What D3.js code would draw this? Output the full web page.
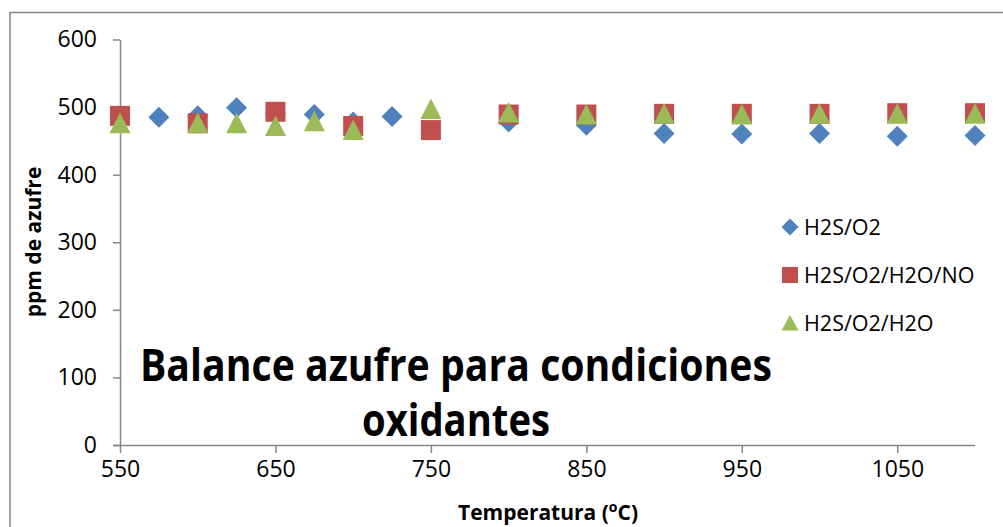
<!DOCTYPE html>
<html>
<head>
<meta charset="utf-8">
<script src="https://cdn.jsdelivr.net/npm/d3@7"></script>
<style>
  html, body { margin: 0; padding: 0; background: #fff; }
  svg { display: block; }
</style>
</head>
<body>
<svg id="chart" width="1003" height="527"></svg>
<script>
// Sulfur balance (ppm) vs temperature for three gas mixtures
const tempsH2SO2 = [550, 575, 600, 625, 650, 675, 700, 725, 800, 850, 900, 950, 1000, 1050, 1100];
const ppmH2SO2   = [485, 485, 487, 499, 490, 489, 478, 486, 478, 473, 461, 460, 461, 457, 458];

const tempsH2SO2H2ONO = [550, 600, 650, 700, 750, 800, 850, 900, 950, 1000, 1050, 1100];
const ppmH2SO2H2ONO   = [487, 476, 493, 472, 466, 489, 489, 490, 490, 490, 491, 491];

const tempsH2SO2H2O = [550, 600, 625, 650, 675, 700, 750, 800, 850, 900, 950, 1000, 1050, 1100];
const ppmH2SO2H2O   = [476, 476, 476, 472, 479, 466, 497, 492, 489, 490, 489, 490, 490, 490];

const seriesNames = ["H2S/O2", "H2S/O2/H2O/NO", "H2S/O2/H2O"];
const xTicks = [550, 650, 750, 850, 950, 1050];
const yTicks = [0, 100, 200, 300, 400, 500, 600];
const titleLines = ["Balance azufre para condiciones", "oxidantes"];

const colors = ["#4F81BD", "#C0504D", "#9BBB59"];
const axisColor = "#868686";
const font = "'Open Sans', 'Noto Sans', sans-serif";

const svg = d3.select("#chart");

// chart frame
svg.append("rect")
  .attr("x", 10).attr("y", 12.5)
  .attr("width", 1010).attr("height", 530)
  .attr("fill", "none").attr("stroke", axisColor).attr("stroke-width", 1.5);

const x = d3.scaleLinear().domain([550, 1100]).range([120, 975]);
const y = d3.scaleLinear().domain([0, 600]).range([445, 39.5]);

// y axis
const yAxis = svg.append("g")
  .attr("transform", "translate(120,0)")
  .call(d3.axisLeft(y).tickValues(yTicks).tickFormat(d3.format("d"))
    .tickSize(7).tickPadding(16).tickSizeOuter(0));
// x axis
const xAxis = svg.append("g")
  .attr("transform", "translate(0,445)")
  .call(d3.axisBottom(x).tickValues(xTicks).tickFormat(d3.format("d"))
    .tickSize(8).tickPadding(18).tickSizeOuter(0));

[yAxis, xAxis].forEach(g => {
  g.select(".domain").attr("stroke", axisColor).attr("stroke-width", 1.5);
  g.selectAll(".tick line").attr("stroke", axisColor).attr("stroke-width", 1.5);
  g.selectAll(".tick text")
    .attr("font-family", font).attr("font-size", 23).attr("fill", "#000");
});
xAxis.selectAll(".tick text").attr("dy", "0.25em");
// x axis line continues left of the y axis
xAxis.select(".domain").attr("d", `M113,0.5H${x(1100)}`);

// markers
const diamond = "M0,-10.5L10.5,0L0,10.5L-10.5,0Z";
const square = "M-10,-10H10V10H-10Z";
const triangle = "M0,-10.5L10.5,10L-10.5,10Z";
const shapes = [diamond, square, triangle];

const seriesData = [
  tempsH2SO2.map((t, i) => [t, ppmH2SO2[i]]),
  tempsH2SO2H2ONO.map((t, i) => [t, ppmH2SO2H2ONO[i]]),
  tempsH2SO2H2O.map((t, i) => [t, ppmH2SO2H2O[i]])
];

seriesData.forEach((pts, s) => {
  svg.append("g").selectAll("path")
    .data(pts).join("path")
    .attr("d", shapes[s])
    .attr("transform", d => `translate(${x(d[0])},${y(d[1])})`)
    .attr("fill", colors[s]);
});

// legend
const legendRows = [227, 275, 323];
const legendShapes = [
  "M0,-8.5L8.5,0L0,8.5L-8.5,0Z",
  "M-8,-8H8V8H-8Z",
  "M0,-8L8.5,7.5L-8.5,7.5Z"
];
seriesNames.forEach((name, i) => {
  svg.append("path")
    .attr("d", legendShapes[i])
    .attr("transform", `translate(790,${legendRows[i]})`)
    .attr("fill", colors[i]);
  svg.append("text")
    .attr("x", 804).attr("y", legendRows[i])
    .attr("dy", "0.36em")
    .attr("font-family", font).attr("font-size", 21.5)
    .attr("fill", "#000")
    .text(name);
});

// title inside plot
const titleBase = [381, 436];
const titleWidth = [632, 188];
titleLines.forEach((line, i) => {
  svg.append("text")
    .attr("x", 456 - titleWidth[i] / 2).attr("y", titleBase[i])
    .attr("font-family", font).attr("font-weight", "bold").attr("font-size", 45)
    .attr("textLength", titleWidth[i]).attr("lengthAdjust", "spacingAndGlyphs")
    .attr("fill", "#000")
    .text(line);
});

// axis titles
svg.append("text")
  .attr("transform", "translate(41,242) rotate(-90)")
  .attr("text-anchor", "middle")
  .attr("font-family", font).attr("font-weight", "bold").attr("font-size", 21)
  .attr("fill", "#000")
  .text("ppm de azufre");

const xt = svg.append("text")
  .attr("x", 548).attr("y", 520)
  .attr("text-anchor", "middle")
  .attr("font-family", font).attr("font-weight", "bold").attr("font-size", 21)
  .attr("fill", "#000");
xt.append("tspan").text("Temperatura (");
xt.append("tspan").attr("font-size", 14).attr("dy", -8).text("o");
xt.append("tspan").attr("dy", 8).text("C)");
</script>
</body>
</html>
